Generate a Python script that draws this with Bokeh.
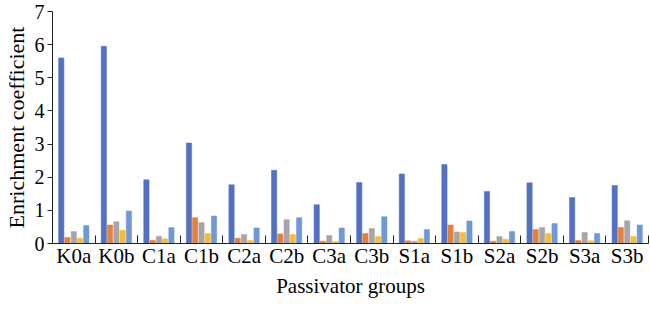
from bokeh.plotting import figure
from bokeh.models import (Range1d, LinearAxis, FixedTicker,
                          Legend, LegendItem, ColumnDataSource)
from bokeh.transform import dodge
from bokeh.embed import file_html
from bokeh.resources import INLINE

groups = ["K0a", "K0b", "C1a", "C1b", "C2a", "C2b", "C3a", "C3b",
          "S1a", "S1b", "S2a", "S2b", "S3a", "S3b"]
cd = [5.60, 5.95, 1.92, 3.03, 1.77, 2.21, 1.17, 1.84, 2.10, 2.38, 1.57, 1.83, 1.39, 1.75]
pb = [0.18, 0.56, 0.10, 0.78, 0.16, 0.29, 0.07, 0.30, 0.08, 0.56, 0.07, 0.42, 0.09, 0.48]
cu = [0.36, 0.66, 0.22, 0.63, 0.27, 0.72, 0.24, 0.45, 0.07, 0.35, 0.21, 0.48, 0.33, 0.69]
zn = [0.16, 0.40, 0.14, 0.30, 0.09, 0.27, 0.06, 0.21, 0.15, 0.33, 0.13, 0.30, 0.08, 0.21]
cr = [0.54, 0.98, 0.48, 0.83, 0.47, 0.78, 0.47, 0.81, 0.42, 0.68, 0.36, 0.60, 0.30, 0.56]
series = ["Cd", "Pb", "Cu", "Zn", "Cr"]
colors = ["#5470C0", "#E2803F", "#A6A6A9", "#F2BD3A", "#7098D6"]
y_ticks = [0, 1, 2, 3, 4, 5, 6, 7]

FONT = "'Liberation Serif', 'Times New Roman', serif"

n = len(groups)
centers = [i + 0.5 for i in range(n)]
src = ColumnDataSource(dict(pos=centers, Cd=cd, Pb=pb, Cu=cu, Zn=zn, Cr=cr))

p = figure(frame_width=596, frame_height=232,
           x_range=Range1d(0, n),
           y_range=Range1d(0, 7),
           output_backend="svg", toolbar_location=None,
           x_axis_location=None,
           min_border_left=52, min_border_right=2, min_border_top=11, min_border_bottom=0)
p.outline_line_color = None
p.xgrid.grid_line_color = None
p.ygrid.grid_line_color = None
p.background_fill_color = "white"
p.border_fill_color = "white"

offsets = [-0.294, -0.150, 0.0, 0.146, 0.294]
renderers = []
for s, c, off in zip(series, colors, offsets):
    r = p.vbar(x=dodge("pos", off), top=s, width=0.125,
               source=src, fill_color=c, line_color=c, line_width=0.5)
    renderers.append(r)

# y axis
ya = p.yaxis[0]
ya.ticker = FixedTicker(ticks=y_ticks)
ya.axis_label = "Enrichment coefficient"
ya.axis_label_text_font = FONT
ya.axis_label_text_font_style = "normal"
ya.axis_label_text_font_size = "22px"
ya.axis_label_standoff = 3
ya.major_label_text_font = FONT
ya.major_label_text_font_size = "20px"
ya.major_label_standoff = 3
ya.major_tick_in = 0
ya.major_tick_out = 5
ya.minor_tick_line_color = None
ya.axis_line_color = "#222222"
ya.major_tick_line_color = "#222222"
ya.major_label_text_color = "black"
ya.axis_label_text_color = "black"

# x axis line with ticks at group boundaries
tick_axis = LinearAxis(ticker=FixedTicker(ticks=list(range(1, n + 1))),
                       major_tick_in=8, major_tick_out=0,
                       major_label_text_font_size="1px",
                       major_label_text_color=None,
                       major_label_standoff=0,
                       minor_tick_line_color=None,
                       axis_line_color="#222222", major_tick_line_color="#222222")
p.add_layout(tick_axis, "below")

label_axis = LinearAxis(ticker=FixedTicker(ticks=centers),
                        major_label_overrides={c: g for c, g in zip(centers, groups)},
                        axis_line_color=None, major_tick_line_color=None,
                        minor_tick_line_color=None,
                        major_label_text_font=FONT, major_label_text_font_size="21px",
                        major_label_text_color="black",
                        major_label_standoff=-6,
                        axis_label="Passivator groups",
                        axis_label_text_font=FONT, axis_label_text_font_style="normal",
                        axis_label_text_font_size="21px", axis_label_text_color="black",
                        axis_label_standoff=3)
p.add_layout(label_axis, "below")

legend = Legend(items=[LegendItem(label=s, renderers=[r]) for s, r in zip(series, renderers)],
                orientation="horizontal", location=(178, 10),
                label_text_font=FONT, label_text_font_size="21px",
                glyph_width=12, glyph_height=12, label_standoff=7, spacing=10,
                padding=0, margin=-4, border_line_color=None, background_fill_alpha=0)
p.add_layout(legend, "below")

open("out.html", "w").write(file_html(p, INLINE))
